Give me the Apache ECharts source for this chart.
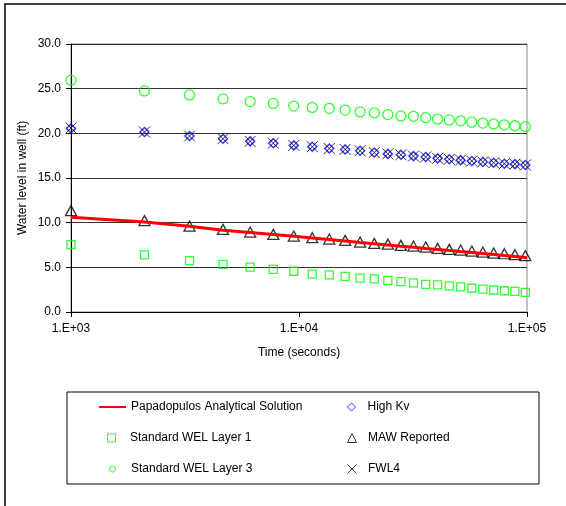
<!DOCTYPE html>
<html>
<head>
<meta charset="utf-8">
<script src="https://cdn.jsdelivr.net/npm/echarts@6/dist/echarts.min.js"></script>
<style>
  html, body { margin: 0; padding: 0; background: #fff; }
  #chart { width: 566px; height: 506px; }
</style>
</head>
<body>
<div id="chart"></div>
<script>
// time (seconds) of each output step
var timeSec = [1000, 2100, 3310, 4641, 6105, 7716, 9487, 11436, 13579, 15937,
  18531, 21384, 24523, 27975, 31772, 35950, 40545, 45599, 51159, 57275,
  64002, 71403, 79543, 88497, 98347];
var solTime = [1000, 2100, 3310, 4641, 6105, 7716, 9487, 11436, 13579, 15937,
  18531, 21384, 24523, 27975, 31772, 35950, 40545, 45599, 51159, 57275,
  64002, 71403, 79543, 88497, 98347, 100000];

var papadopoulos = [10.6, 10.07, 9.6, 9.16, 8.9, 8.68, 8.47, 8.28, 8.11, 7.95,
  7.79, 7.65, 7.51, 7.37, 7.25, 7.12, 7.0, 6.88, 6.76, 6.65,
  6.54, 6.43, 6.32, 6.21, 6.1, 6.08];
var welLayer1 = [7.55, 6.4, 5.75, 5.33, 5.03, 4.77, 4.56, 4.25, 4.15, 3.98,
  3.8, 3.7, 3.53, 3.4, 3.27, 3.1, 3.03, 2.93, 2.82, 2.66,
  2.56, 2.46, 2.38, 2.3, 2.2];
var welLayer3 = [25.95, 24.75, 24.3, 23.85, 23.55, 23.35, 23.05, 22.9, 22.8, 22.6,
  22.4, 22.3, 22.1, 21.95, 21.9, 21.75, 21.6, 21.5, 21.4, 21.25,
  21.15, 21.05, 20.95, 20.85, 20.75];
var highKv = [20.55, 20.15, 19.7, 19.4, 19.1, 18.9, 18.65, 18.5, 18.3, 18.2,
  18.05, 17.85, 17.7, 17.6, 17.45, 17.35, 17.2, 17.1, 17.0, 16.9,
  16.8, 16.7, 16.6, 16.55, 16.45];
var mawReported = [11.35, 10.22, 9.62, 9.25, 8.95, 8.69, 8.5, 8.32, 8.17, 8.02,
  7.83, 7.68, 7.6, 7.46, 7.38, 7.27, 7.12, 7.01, 6.93, 6.82,
  6.71, 6.6, 6.52, 6.41, 6.3];
var fwl4 = [20.6, 20.15, 19.7, 19.4, 19.1, 18.9, 18.65, 18.5, 18.3, 18.2,
  18.05, 17.85, 17.7, 17.6, 17.45, 17.35, 17.2, 17.1, 17.0, 16.9,
  16.8, 16.7, 16.6, 16.55, 16.45];

function pairs(xs, ys) {
  var out = [];
  for (var i = 0; i < ys.length; i++) out.push([xs[i], ys[i]]);
  return out;
}

var FONT = 'Liberation Sans';
var txt = { fontFamily: FONT, fontSize: 12, color: '#000', lineHeight: 14 };

var SQUARE = 'path://M0,0L10,0L10,10L0,10Z';
var CIRCLE = 'path://M0,5A5,5 0 1,0 10,5A5,5 0 1,0 0,5Z';
var DIAMOND = 'path://M5,0L10,5L5,10L0,5Z';
var TRIANGLE = 'path://M5,0L10,10L0,10Z';
var CROSS = 'path://M0,0L10,10M10,0L0,10';

function legendItem(name, icon, left, top, w, h) {
  var item = { name: name };
  if (icon) item.icon = icon;
  return {
    data: [item],
    left: left, top: top,
    padding: 0,
    itemWidth: w, itemHeight: h,
    selectedMode: false,
    textStyle: txt,
    itemStyle: { borderWidth: 1 },
    lineStyle: { width: 2 }
  };
}

var lineLegend = legendItem('Papadopulos Analytical Solution', null, 98, 400, 27, 10);
lineLegend.itemStyle = { color: 'transparent', borderWidth: 0, opacity: 0 };

var myChart = echarts.init(document.getElementById('chart'));

var option = {
  animation: false,
  backgroundColor: '#fff',
  graphic: [
    { type: 'rect', shape: { x: 5, y: 4, width: 700, height: 700 },
      style: { fill: 'none', stroke: '#000', lineWidth: 1.5 }, silent: true },
    { type: 'rect', shape: { x: 67, y: 392, width: 472, height: 92 },
      style: { fill: 'none', stroke: '#000', lineWidth: 1 }, silent: true },
    // y axis title
    { type: 'text', x: 23, y: 178, rotation: Math.PI / 2, silent: true,
      style: { text: 'Water level in well (ft)', font: '12px "Liberation Sans"',
        fill: '#000', align: 'center', verticalAlign: 'middle' } }
  ],
  grid: {
    left: 71, top: 44, width: 456, height: 268,
    show: true, borderColor: '#888', borderWidth: 1
  },
  legend: [
    lineLegend,
    legendItem('Standard WEL Layer 1', SQUARE, 107, 431, 27, 8),
    legendItem('Standard WEL Layer 3', CIRCLE, 109, 462, 27, 6),
    legendItem('High Kv', DIAMOND, 347, 400, 22, 8),
    legendItem('MAW Reported', TRIANGLE, 347, 431, 22, 9),
    legendItem('FWL4', CROSS, 347, 462, 22, 9)
  ],
  xAxis: {
    type: 'log',
    logBase: 10,
    min: 1000,
    max: 100000,
    name: 'Time (seconds)',
    nameLocation: 'middle',
    nameGap: 34,
    nameTextStyle: txt,
    axisLine: { lineStyle: { color: '#000', width: 1 } },
    axisTick: { inside: false, length: 5, lineStyle: { color: '#000' } },
    minorTick: { show: false },
    splitLine: { show: false },
    axisLabel: {
      margin: 11,
      fontFamily: FONT, fontSize: 12, color: '#000',
      formatter: function (v) {
        var e = Math.round(Math.log10(v));
        return '1.E+' + (e < 10 ? '0' : '') + e;
      }
    }
  },
  yAxis: {
    type: 'value',
    min: 0,
    max: 30,
    interval: 5,
    axisLine: { show: true, lineStyle: { color: '#000', width: 1 } },
    axisTick: { show: true, inside: false, length: 5, lineStyle: { color: '#000' } },
    splitLine: { lineStyle: { color: '#333', width: 1 } },
    axisLabel: {
      margin: 10,
      fontFamily: FONT, fontSize: 12, color: '#000',
      formatter: function (v) { return v.toFixed(1); }
    }
  },
  series: [
    {
      name: 'Standard WEL Layer 1',
      type: 'scatter',
      symbol: 'rect',
      symbolSize: 8,
      itemStyle: { color: 'transparent', borderColor: '#00ff00', borderWidth: 1.3 },
      data: pairs(timeSec, welLayer1)
    },
    {
      name: 'Standard WEL Layer 3',
      type: 'scatter',
      symbol: 'circle',
      symbolSize: 10,
      itemStyle: { color: 'transparent', borderColor: '#00ff00', borderWidth: 1.3 },
      data: pairs(timeSec, welLayer3)
    },
    {
      name: 'High Kv',
      type: 'scatter',
      symbol: 'diamond',
      symbolSize: 9,
      itemStyle: { color: 'transparent', borderColor: '#0000ff', borderWidth: 1.5 },
      data: pairs(timeSec, highKv)
    },
    {
      name: 'MAW Reported',
      type: 'scatter',
      symbol: 'triangle',
      symbolSize: [11, 10],
      itemStyle: { color: 'transparent', borderColor: '#000', borderWidth: 1.3 },
      data: pairs(timeSec, mawReported)
    },
    {
      name: 'FWL4',
      type: 'scatter',
      symbol: CROSS,
      symbolSize: 11,
      itemStyle: { color: 'transparent', borderColor: '#000', borderWidth: 1 },
      data: pairs(timeSec, fwl4)
    },
    {
      name: 'Papadopulos Analytical Solution',
      type: 'line',
      symbol: 'none',
      z: 3,
      lineStyle: { color: '#ff0000', width: 3 },
      itemStyle: { color: '#ff0000' },
      data: pairs(solTime, papadopoulos)
    }
  ]
};

option && myChart.setOption(option);
</script>
</body>
</html>
